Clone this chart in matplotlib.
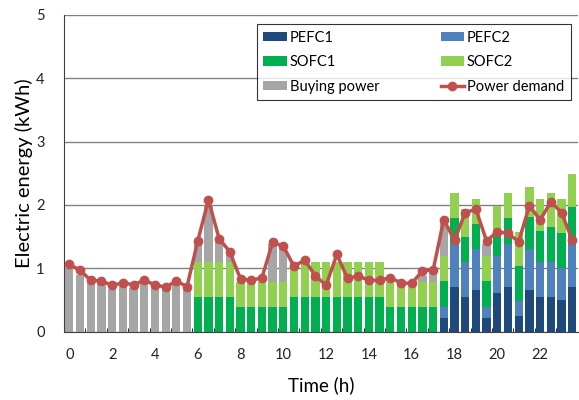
import numpy as np
import matplotlib.pyplot as plt
import matplotlib as mpl

mpl.rcParams['font.family'] = ['Lato', 'DejaVu Sans']
mpl.rcParams['font.size'] = 10

# half-hour time slots
hours = np.arange(48) * 0.5

pefc1 = [0]*35 + [0.21, 0.70, 0.55, 0.66, 0.21, 0.61, 0.70, 0.25, 0.66, 0.55, 0.55, 0.50, 0.70]
pefc2 = [0]*35 + [0.18, 0.69, 0.55, 0.64, 0.18, 0.59, 0.69, 0.23, 0.64, 0.55, 0.55, 0.50, 0.70]
sofc1 = ([0]*12 + [0.55]*4 + [0.39]*5 + [0.55]*9 + [0.39]*5
         + [0.41, 0.40, 0.39, 0.40, 0.41, 0.38, 0.40, 0.56, 0.51, 0.49, 0.55, 0.55, 0.56])
sofc2 = ([0]*12 + [0.55]*4 + [0.40]*5 + [0.55]*9 + [0.40]*5
         + [0.40, 0.40, 0.45, 0.39, 0.40, 0.41, 0.40, 0.54, 0.48, 0.50, 0.54, 0.54, 0.53])
buying = [1.00, 0.90, 0.76, 0.75, 0.68, 0.72, 0.69, 0.76, 0.69, 0.65, 0.75, 0.66,
          0.31, 0.89, 0.33, 0.13, 0, 0, 0, 0.60, 0.55, 0, 0, 0,
          0, 0, 0, 0, 0, 0, 0, 0, 0, 0.09, 0.13, 0.54,
          0, 0, 0, 0.18, 0, 0, 0, 0, 0, 0, 0, 0]
demand = [1.06, 0.97, 0.81, 0.80, 0.73, 0.77, 0.74, 0.81, 0.74, 0.70, 0.80, 0.71,
          1.43, 2.08, 1.47, 1.26, 0.83, 0.81, 0.85, 1.41, 1.35, 1.03, 1.13, 0.88,
          0.73, 1.22, 0.84, 0.88, 0.81, 0.81, 0.85, 0.77, 0.76, 0.96, 0.97, 1.77,
          1.44, 1.88, 1.93, 1.43, 1.58, 1.55, 1.42, 1.99, 1.76, 2.05, 1.88, 1.45]

series = [('PEFC1', pefc1, '#1F497D'),
          ('PEFC2', pefc2, '#4F81BD'),
          ('SOFC1', sofc1, '#00B050'),
          ('SOFC2', sofc2, '#92D050'),
          ('Buying power', buying, '#A6A6A6')]

fig = plt.figure(figsize=(5.79, 4.0), dpi=100)
ax = fig.add_axes([0.1105, 0.171, 0.887, 0.7915])

handles = {}
bottom = np.zeros(48)
for name, vals, col in series:
    vals = np.array(vals)
    handles[name] = ax.bar(hours, vals, width=0.385, bottom=bottom, color=col,
                           label=name, zorder=2)
    bottom += vals

handles['Power demand'], = ax.plot(hours, demand, color='#C0504D', lw=2.5, marker='o',
                                   markersize=6, label='Power demand', zorder=3)

ax.set_xlim(-0.25, 23.75)
ax.set_ylim(0, 5)
ax.set_yticks(range(6))
ax.set_xticks(range(0, 24, 2))
ax.set_xticks(np.arange(0.75, 23, 1), minor=True)
ax.tick_params(axis='both', which='major', length=0, labelsize=10.5, colors='#222222')
ax.tick_params(axis='x', which='major', pad=12)
ax.tick_params(axis='y', which='major', pad=14)
ax.tick_params(axis='x', which='minor', direction='in', length=3, color='black')
ax.grid(axis='y', color='#808080', lw=1, zorder=1)
for s in ['top', 'right']:
    ax.spines[s].set_visible(False)
for s in ['left', 'bottom']:
    ax.spines[s].set_color('#404040')

ax.set_xlabel('Time (h)', fontsize=13.5, labelpad=10)
ax.set_ylabel('Electric energy (kWh)', fontsize=14.5, labelpad=2)

order = ['PEFC1', 'SOFC1', 'Buying power', 'PEFC2', 'SOFC2', 'Power demand']
leg = ax.legend([handles[k] for k in order], order, ncol=2, loc='upper right',
                bbox_to_anchor=(0.995, 0.985), fontsize=10.5, frameon=True, fancybox=False,
                edgecolor='black', handlelength=1.6, handleheight=0.6,
                columnspacing=4.2, labelspacing=0.72, borderpad=0.45, handletextpad=0.2,
                borderaxespad=0.3)
leg.get_frame().set_linewidth(0.8)

fig.savefig('out.png', dpi=100)
